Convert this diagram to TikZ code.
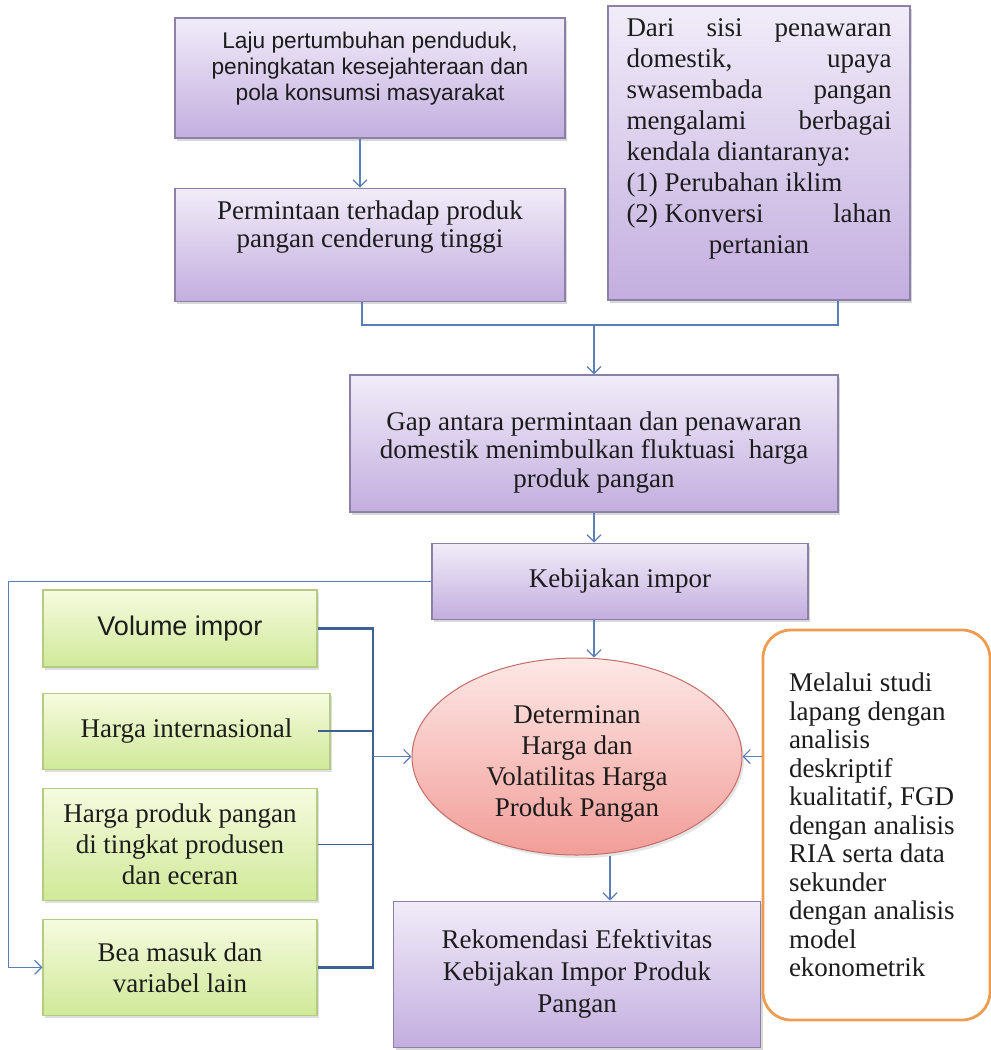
\documentclass[tikz,border=0pt]{standalone}
\usepackage{fontspec}
\setmainfont{Liberation Serif}
\newfontfamily\arialfont{Liberation Sans}
\usepackage{xcolor}
\usetikzlibrary{arrows.meta, positioning, shapes.geometric, shadows, calc}

\definecolor{purpTop}{HTML}{F1ECF9}
\definecolor{purpBot}{HTML}{C3AEDF}
\definecolor{purpLine}{HTML}{8B80A6}
\definecolor{grnTop}{HTML}{F6FBDF}
\definecolor{grnBot}{HTML}{D0E999}
\definecolor{grnLine}{HTML}{B3CB85}
\definecolor{pinkTop}{HTML}{FDE8E6}
\definecolor{pinkBot}{HTML}{F29D98}
\definecolor{pinkLine}{HTML}{C46D66}
\definecolor{orangeLine}{HTML}{EE9C52}
\definecolor{linkBlue}{HTML}{5B7EB6}
\definecolor{busBlue}{HTML}{3F6093}
\definecolor{txtDark}{HTML}{1C1C1C}

\newcommand{\serifbig}{\fontsize{27pt}{31pt}\selectfont}

\begin{document}
\begin{tikzpicture}[
    x=1pt, y=-1pt,
    pbox/.style={rectangle, draw=purpLine, line width=1.2pt,
                 top color=purpTop, bottom color=purpBot,
                 drop shadow={shadow xshift=2pt, shadow yshift=-3pt, opacity=0.3},
                 align=flush center, inner sep=4pt, text=txtDark, font=\serifbig},
    gbox/.style={rectangle, draw=grnLine, line width=1.1pt,
                 top color=grnTop, bottom color=grnBot,
                 drop shadow={shadow xshift=2pt, shadow yshift=-3pt, opacity=0.25},
                 align=center, inner sep=4pt, text=txtDark, font=\serifbig,
                 minimum width=274pt},
    arr/.style={-{Straight Barb[length=7pt,width=14pt]}, line width=1.2pt, linkBlue},
    link/.style={line width=1.2pt, linkBlue},
    bus/.style={line width=2.6pt, busBlue}
]
\path[fill=white, use as bounding box] (0,0) rectangle (991,1050);

% upper part
\node[pbox, minimum width=390pt, minimum height=120pt, text width=370pt, text depth=74.6pt,
      font=\arialfont\fontsize{22.7pt}{26pt}\selectfont] (laju) at (370,78)
     {Laju pertumbuhan penduduk,\\ peningkatan kesejahteraan dan\\ pola konsumsi masyarakat};
\node[pbox, below=49pt of laju, minimum width=390pt, minimum height=113pt, text width=370pt,
      text depth=69.4pt, font=\fontsize{27pt}{28.5pt}\selectfont] (perm)
     {Permintaan terhadap produk\\ pangan cenderung tinggi};
\node[pbox, minimum width=302pt, minimum height=294pt, text width=265pt, text depth=251.5pt,
      align=flush left] (dari) at (759,153)
     {Dari\hfill sisi\hfill penawaran\\ domestik,\hfill upaya\\ swasembada\hfill pangan\\
      mengalami\hfill berbagai\\ kendala diantaranya:\\ (1) Perubahan iklim\\
      (2) Konversi\hfill lahan\\ \hspace*{\fill}pertanian\hspace*{\fill}};
\node[pbox, minimum width=488pt, minimum height=137pt, text width=470pt, text height=36pt,
      font=\fontsize{27pt}{28.5pt}\selectfont] (gap) at (594,443.5)
     {Gap antara permintaan dan penawaran\\ domestik menimbulkan fluktuasi~ harga\\ produk pangan};
\node[pbox, below=30pt of gap, xshift=26pt, minimum width=376pt, minimum height=76pt] (keb)
     {Kebijakan impor};

% centre
\node[ellipse, draw=pinkLine, line width=1pt, top color=pinkTop, bottom color=pinkBot,
      drop shadow={shadow xshift=2pt, shadow yshift=-3pt, opacity=0.2},
      minimum width=330pt, minimum height=197pt, inner sep=0pt, align=flush center,
      text width=200pt, text height=32pt, text=txtDark, font=\serifbig] (elli) at (577,756.5)
     {Determinan\\ Harga dan\\ Volatilitas Harga\\ Produk Pangan};
\node[pbox, below=45pt of elli, minimum width=367pt, minimum height=146pt,
      font=\fontsize{27pt}{32pt}\selectfont] (rekom)
     {Rekomendasi Efektivitas\\ Kebijakan Impor Produk\\ Pangan};

% left column
\node[gbox, minimum height=77pt, font=\arialfont\fontsize{27pt}{31pt}\selectfont] (vol)
     at (180,628.5) {Volume impor};
\node[gbox, below=25pt of vol.south west, anchor=north west, minimum width=287pt,
      minimum height=76pt] (intl) {Harga internasional};
\node[gbox, below=18pt of intl.south west, anchor=north west, minimum height=112pt] (prod)
     {Harga produk pangan\\ di tingkat produsen\\ dan eceran};
\node[gbox, below=18pt of prod.south west, anchor=north west, minimum height=96pt] (bea)
     {Bea masuk dan\\ variabel lain};

% right
\node[rectangle, rounded corners=28pt, draw=orangeLine, line width=2.8pt, fill=white,
      minimum width=227pt, minimum height=390pt, text width=175pt, inner xsep=26pt,
      align=flush left, text=txtDark, font=\fontsize{27pt}{28.5pt}\selectfont] (metode)
     at (876.5,825)
     {Melalui studi\\ lapang dengan\\ analisis\\ deskriptif\\ kualitatif, FGD\\
      dengan analisis\\ RIA serta data\\ sekunder\\ dengan analisis\\ model\\ ekonometrik};

% connectors
\coordinate (split) at (594,325);
\coordinate (bus) at (373,0);
\draw[arr] ([xshift=-10pt]laju.south) -- ([xshift=-10pt]perm.north);
\draw[link] ([xshift=-8pt]perm.south) |- (split) -| ([xshift=79pt]dari.south);
\draw[arr] (split) -- (gap.north);
\draw[arr] (gap.south) -- (gap.south |- keb.north);
\draw[arr] (gap.south |- keb.south) -- (gap.south |- elli.north);
\draw[arr] ([xshift=33pt]elli.south) -- ([xshift=33pt]elli.south |- rekom.north);
\draw[arr] (keb.west) -- ++(-423,0) |- (bea.west);
\draw[bus] (vol.east) -- (vol.east -| bus) -- (bea.east -| bus) -- (bea.east);
\draw[bus] ([xshift=-13pt]intl.east) -- (intl.east -| bus);
\draw[line width=1.3pt, busBlue] (prod.east) -- (prod.east -| bus);
\draw[arr] (elli.west -| bus) -- (elli.west);
\draw[arr] (metode.west |- elli.east) -- (elli.east);
\end{tikzpicture}
\end{document}
